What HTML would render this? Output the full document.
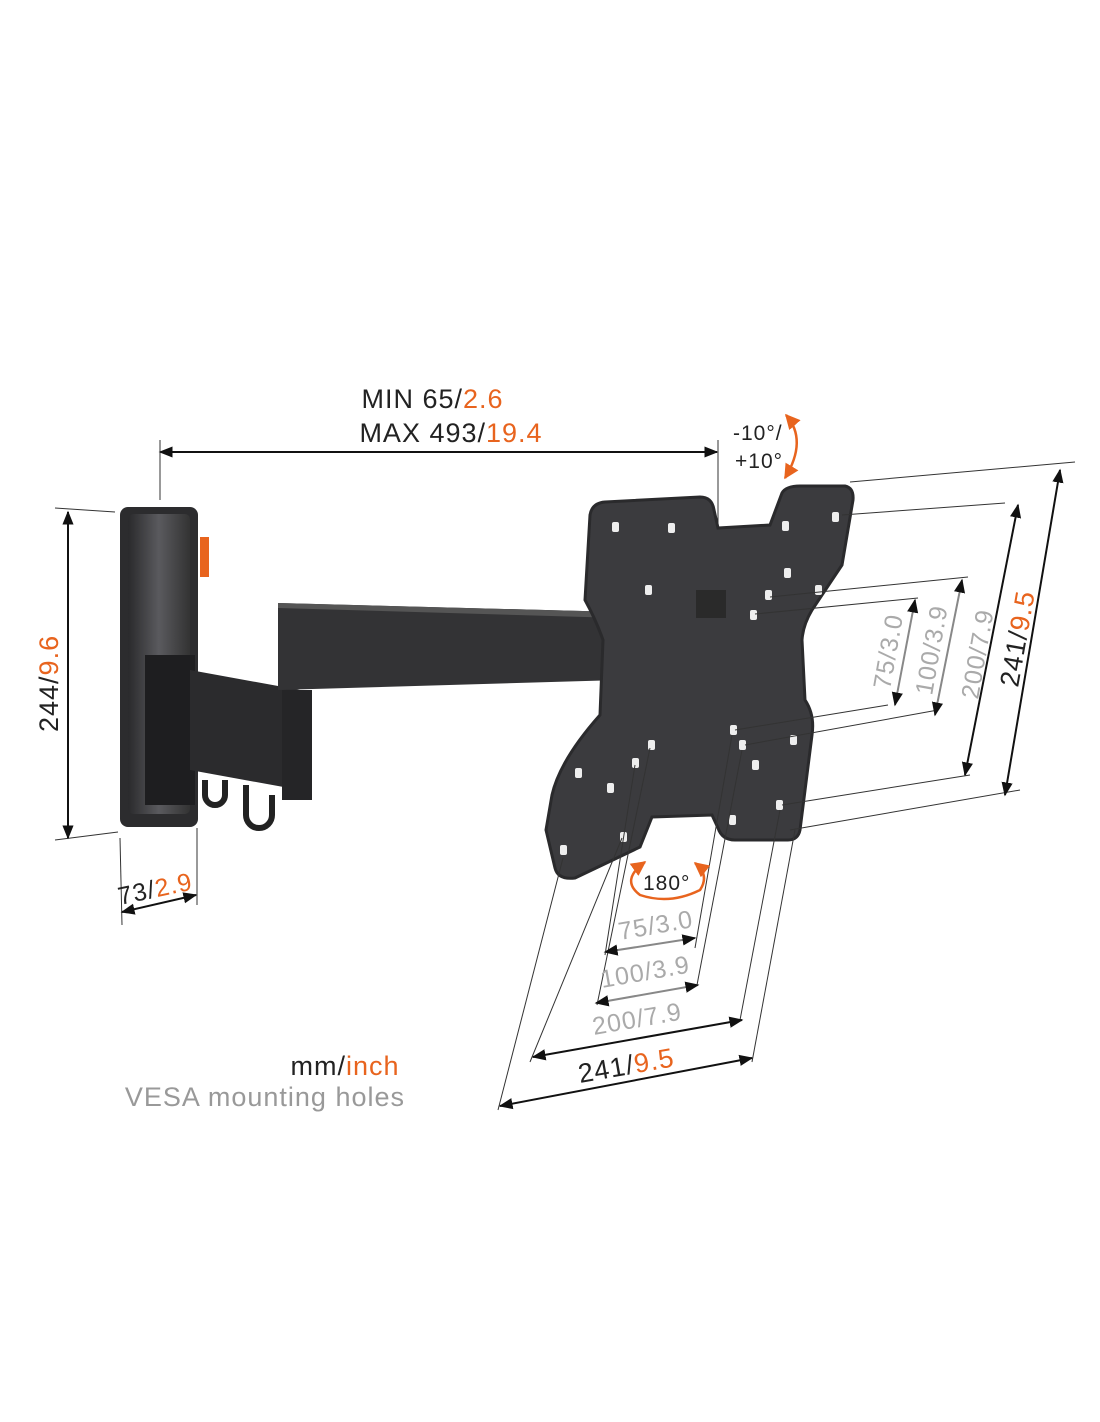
<!DOCTYPE html>
<html><head><meta charset="utf-8"><style>
html,body{margin:0;padding:0;background:#fff}
svg{display:block}
text{font-family:"Liberation Sans",sans-serif;letter-spacing:1px}
</style></head><body>
<svg width="1100" height="1422" viewBox="0 0 1100 1422" xmlns="http://www.w3.org/2000/svg">
<defs>
<marker id="a" viewBox="0 0 10 10" refX="9" refY="5" markerWidth="7" markerHeight="7" orient="auto-start-reverse"><path d="M0,1 L10,5 L0,9 z" fill="#111"/></marker>
<marker id="o" viewBox="0 0 10 10" refX="9" refY="5" markerWidth="6" markerHeight="6" orient="auto-start-reverse"><path d="M0,0 L10,5 L0,10 z" fill="#e8641e"/></marker>
<linearGradient id="wp" x1="0" x2="1"><stop offset="0" stop-color="#2a2a2c"/><stop offset="0.5" stop-color="#5a5a5e"/><stop offset="1" stop-color="#333"/></linearGradient>
</defs>

<!-- top dimension -->
<text x="463" y="408" font-size="27" fill="#222" text-anchor="end">MIN 65/</text><text x="463" y="408" font-size="27" fill="#e8641e">2.6</text>
<text x="486" y="442" font-size="27" fill="#222" text-anchor="end">MAX 493/</text><text x="486" y="442" font-size="27" fill="#e8641e">19.4</text>
<line x1="160" y1="452" x2="717" y2="452" stroke="#111" stroke-width="2" marker-start="url(#a)" marker-end="url(#a)"/>
<line x1="160" y1="440" x2="160" y2="500" stroke="#333" stroke-width="1"/>
<line x1="718" y1="440" x2="718" y2="525" stroke="#333" stroke-width="1"/>
<text x="733" y="440" font-size="21" fill="#222">-10°/</text>
<text x="735" y="468" font-size="21" fill="#222">+10°</text>
<path d="M786,415 Q808,440 785,478" fill="none" stroke="#e8641e" stroke-width="2.5" marker-start="url(#o)" marker-end="url(#o)"/>

<!-- left wall plate -->
<rect x="120" y="507" width="78" height="320" rx="8" fill="#2c2c2e"/>
<rect x="128" y="514" width="62" height="300" rx="5" fill="url(#wp)"/>
<rect x="200" y="537" width="9" height="40" fill="#e8641e"/>
<line x1="55" y1="508" x2="115" y2="512" stroke="#333"/>
<line x1="55" y1="840" x2="118" y2="832" stroke="#333"/>
<line x1="68" y1="512" x2="68" y2="838" stroke="#111" stroke-width="2" marker-start="url(#a)" marker-end="url(#a)"/>
<text transform="translate(58,732) rotate(-90)" font-size="27" fill="#222">244/<tspan fill="#e8641e">9.6</tspan></text>
<line x1="120" y1="838" x2="122" y2="925" stroke="#333"/>
<line x1="197" y1="828" x2="197" y2="905" stroke="#333"/>
<line x1="122" y1="912" x2="196" y2="895" stroke="#111" stroke-width="2" marker-start="url(#a)" marker-end="url(#a)"/>
<text transform="translate(120,905) rotate(-12)" font-size="25" fill="#222">73/<tspan fill="#e8641e">2.9</tspan></text>

<!-- arm -->
<rect x="145" y="655" width="50" height="150" fill="#1e1e20"/>
<polygon points="190,670 300,690 300,790 190,770" fill="#2b2b2d"/>
<rect x="282" y="690" width="30" height="110" fill="#252527"/>
<polygon points="278,603 620,612 620,680 278,690" fill="#333335"/>
<polygon points="278,603 620,612 620,618 278,608" fill="#555"/>
<path d="M205,780 v15 a10,10 0 0 0 20,0 v-15" fill="none" stroke="#222" stroke-width="6"/>
<path d="M246,785 v30 a13,13 0 0 0 26,0 v-20" fill="none" stroke="#222" stroke-width="6"/>

<!-- TV plate -->
<path d="M605,502 L700,497 Q712,497 714,510 L718,528 L770,525 L782,493 Q786,486 800,486 L845,486 Q854,488 853,500 L842,565 L812,610 Q803,625 802,640 L805,700 Q815,715 812,735 L800,830 Q798,840 788,840 L735,840 Q722,840 718,828 L712,815 L652,817 L640,847 L575,878 Q558,880 555,868 L546,830 L552,795 Q560,760 600,715 L603,640 Q596,620 585,600 L590,515 Q592,503 605,502 Z" fill="#3b3b3e" stroke="#2a2a2c" stroke-width="3"/>
<g fill="#eee">
<rect x="612" y="522" width="7" height="10" rx="2"/><rect x="668" y="523" width="7" height="10" rx="2"/>
<rect x="782" y="521" width="7" height="10" rx="2"/><rect x="832" y="512" width="7" height="10" rx="2"/>
<rect x="784" y="568" width="7" height="10" rx="2"/><rect x="765" y="590" width="7" height="10" rx="2"/><rect x="815" y="585" width="7" height="10" rx="2"/>
<rect x="645" y="585" width="7" height="10" rx="2"/><rect x="750" y="610" width="7" height="10" rx="2"/>
<rect x="730" y="725" width="7" height="10" rx="2"/><rect x="648" y="740" width="7" height="10" rx="2"/>
<rect x="739" y="740" width="7" height="10" rx="2"/><rect x="790" y="735" width="7" height="10" rx="2"/>
<rect x="632" y="758" width="7" height="10" rx="2"/><rect x="752" y="760" width="7" height="10" rx="2"/>
<rect x="575" y="768" width="7" height="10" rx="2"/><rect x="607" y="783" width="7" height="10" rx="2"/>
<rect x="776" y="800" width="7" height="10" rx="2"/><rect x="729" y="815" width="7" height="10" rx="2"/>
<rect x="620" y="832" width="7" height="10" rx="2"/><rect x="560" y="845" width="7" height="10" rx="2"/>
</g>
<rect x="696" y="590" width="30" height="28" fill="#2a2a2a"/>

<!-- right dims -->
<g stroke="#333" stroke-width="1">
<line x1="850" y1="482" x2="1075" y2="462"/><line x1="842" y1="515" x2="1005" y2="503"/>
<line x1="770" y1="597" x2="968" y2="577"/><line x1="755" y1="614" x2="918" y2="598"/>
<line x1="735" y1="730" x2="888" y2="705"/><line x1="745" y1="745" x2="938" y2="710"/>
<line x1="782" y1="805" x2="970" y2="775"/><line x1="790" y1="830" x2="1020" y2="790"/>
</g>
<g stroke="#111" stroke-width="2" marker-start="url(#a)" marker-end="url(#a)">
<line x1="1060" y1="470" x2="1005" y2="795"/>
<line x1="1018" y1="505" x2="965" y2="775"/>
</g>
<g stroke="#888" stroke-width="2" marker-start="url(#a)" marker-end="url(#a)">
<line x1="962" y1="580" x2="935" y2="715"/>
<line x1="915" y1="600" x2="895" y2="705"/>
</g>
<text transform="translate(1018,688) rotate(-80)" font-size="27" fill="#222">241/<tspan fill="#e8641e">9.5</tspan></text>
<text transform="translate(978,700) rotate(-80)" font-size="25" fill="#aaa">200/7.9</text>
<text transform="translate(932,696) rotate(-80)" font-size="25" fill="#aaa">100/3.9</text>
<text transform="translate(890,690) rotate(-80)" font-size="25" fill="#aaa">75/3.0</text>

<!-- bottom dims -->
<g stroke="#333" stroke-width="1">
<line x1="563" y1="858" x2="498" y2="1110"/><line x1="622" y1="838" x2="530" y2="1062"/>
<line x1="650" y1="748" x2="597" y2="1005"/><line x1="635" y1="765" x2="605" y2="955"/>
<line x1="732" y1="735" x2="695" y2="948"/><line x1="742" y1="750" x2="697" y2="985"/>
<line x1="780" y1="810" x2="740" y2="1020"/><line x1="795" y1="830" x2="752" y2="1062"/>
</g>
<g stroke="#111" stroke-width="2" marker-start="url(#a)" marker-end="url(#a)">
<line x1="500" y1="1106" x2="752" y2="1058"/>
<line x1="533" y1="1057" x2="742" y2="1020"/>
</g>
<g stroke="#888" stroke-width="2" marker-start="url(#a)" marker-end="url(#a)">
<line x1="596" y1="1003" x2="698" y2="985"/>
<line x1="605" y1="952" x2="695" y2="938"/>
</g>
<text transform="translate(580,1083) rotate(-10)" font-size="27" fill="#222">241/<tspan fill="#e8641e">9.5</tspan></text>
<text transform="translate(594,1035) rotate(-10)" font-size="25" fill="#aaa">200/7.9</text>
<text transform="translate(602,988) rotate(-10)" font-size="25" fill="#aaa">100/3.9</text>
<text transform="translate(620,940) rotate(-10)" font-size="25" fill="#aaa">75/3.0</text>
<text x="643" y="890" font-size="21" fill="#222">180°</text>
<path d="M645,862 Q620,880 640,895 Q670,905 700,890 Q710,875 695,863" fill="none" stroke="#e8641e" stroke-width="2.5" marker-start="url(#o)" marker-end="url(#o)"/>

<!-- legend -->
<text x="346" y="1075" font-size="27" fill="#222" text-anchor="end">mm/</text><text x="346" y="1075" font-size="27" fill="#e8641e">inch</text>
<text x="405" y="1106" font-size="27" fill="#999" text-anchor="end">VESA mounting holes</text>
</svg>
</body></html>
